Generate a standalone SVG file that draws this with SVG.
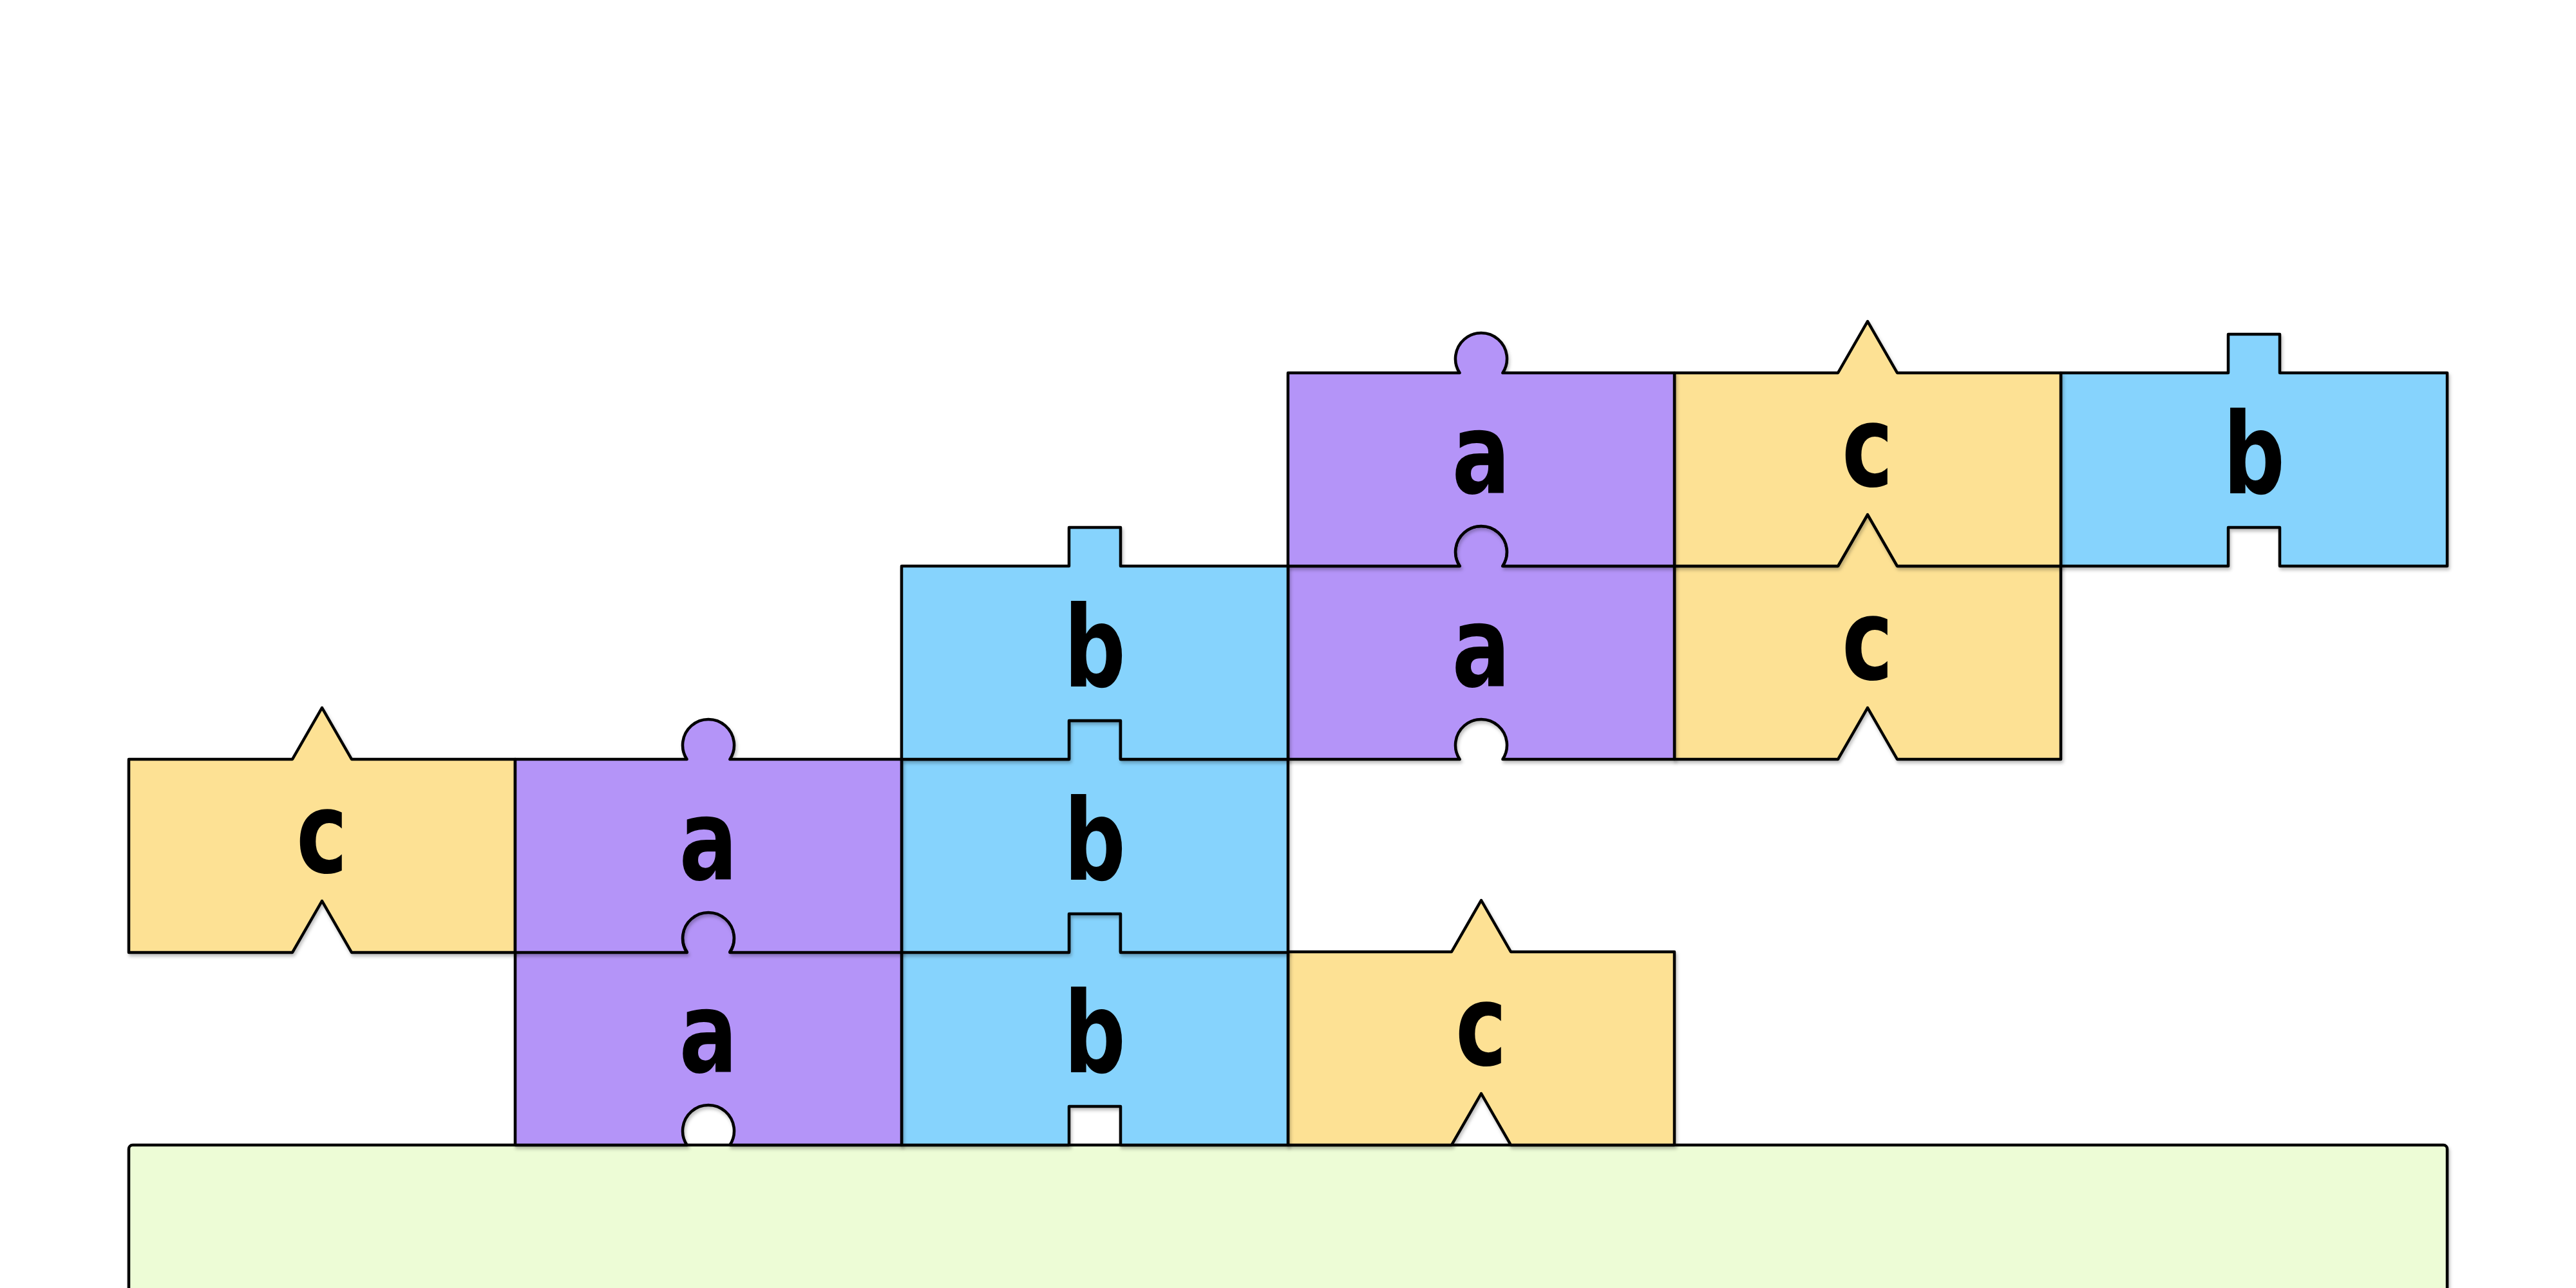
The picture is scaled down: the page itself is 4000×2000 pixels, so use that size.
<svg xmlns="http://www.w3.org/2000/svg" xmlns:xlink="http://www.w3.org/1999/xlink" width="4000" height="2000" viewBox="0 0 4000 2000">
<style>
.pc{stroke:#000;stroke-width:4.5;stroke-linejoin:round;filter:url(#sh)}
.pa{fill:#B494F8}
.pb{fill:#86D3FD}
.pcc{fill:#FDE194}
.lbl{font-family:"DejaVu Sans Condensed","DejaVu Sans",sans-serif;font-weight:bold;font-size:174px;fill:#000;text-anchor:middle}
</style>
<defs>
<filter id="sh" x="-5%" y="-20%" width="110%" height="140%">
<feDropShadow dx="2" dy="4" stdDeviation="2.5" flood-color="#000" flood-opacity="0.25"/>
</filter>
<path id="shA" d="M0,0 H266.6 A40,40 0 1 1 333.4,0 H600 V300 H333.4 A40,40 0 1 0 266.6,300 H0 Z"/>
<path id="shB" d="M0,0 H260 V-60 H340 V0 H600 V300 H340 V240 H260 V300 H0 Z"/>
<path id="shC" d="M0,0 H254 L300,-80 L346,0 H600 V300 H346 L300,220 L254,300 H0 Z"/>
</defs>
<rect width="4000" height="2000" fill="#fff"/>
<g id="base">
<rect class="pc" x="200" y="1778" width="3600" height="400" rx="6" fill="#EDFCD6"/>
</g>
<g id="c-r4" transform="translate(2000,1478)"><use href="#shC" class="pc pcc"/><text class="lbl" transform="translate(300,176) scale(0.86,1)">c</text></g>
<g id="b-r4" transform="translate(1400,1478)"><use href="#shB" class="pc pb"/><text class="lbl" transform="translate(300,187) scale(0.86,1)">b</text></g>
<g id="a-r4" transform="translate(800,1478)"><use href="#shA" class="pc pa"/><text class="lbl" transform="translate(300,187) scale(0.86,1)">a</text></g>
<g id="c-r3" transform="translate(200,1179)"><use href="#shC" class="pc pcc"/><text class="lbl" transform="translate(300,176) scale(0.86,1)">c</text></g>
<g id="b-r3" transform="translate(1400,1179)"><use href="#shB" class="pc pb"/><text class="lbl" transform="translate(300,187) scale(0.86,1)">b</text></g>
<g id="a-r3" transform="translate(800,1179)"><use href="#shA" class="pc pa"/><text class="lbl" transform="translate(300,187) scale(0.86,1)">a</text></g>
<g id="c-r2" transform="translate(2600,879)"><use href="#shC" class="pc pcc"/><text class="lbl" transform="translate(300,176) scale(0.86,1)">c</text></g>
<g id="a-r2" transform="translate(2000,879)"><use href="#shA" class="pc pa"/><text class="lbl" transform="translate(300,187) scale(0.86,1)">a</text></g>
<g id="b-r2" transform="translate(1400,879)"><use href="#shB" class="pc pb"/><text class="lbl" transform="translate(300,187) scale(0.86,1)">b</text></g>
<g id="b-r1" transform="translate(3200,579)"><use href="#shB" class="pc pb"/><text class="lbl" transform="translate(300,187) scale(0.86,1)">b</text></g>
<g id="c-r1" transform="translate(2600,579)"><use href="#shC" class="pc pcc"/><text class="lbl" transform="translate(300,176) scale(0.86,1)">c</text></g>
<g id="a-r1" transform="translate(2000,579)"><use href="#shA" class="pc pa"/><text class="lbl" transform="translate(300,187) scale(0.86,1)">a</text></g>
<g id="connectors"></g>
</svg>
